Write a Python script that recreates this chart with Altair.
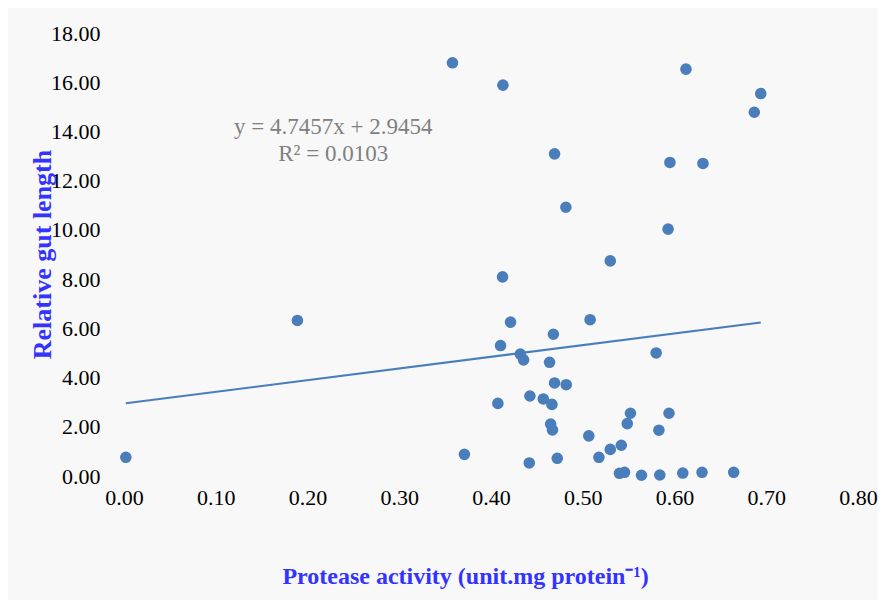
import altair as alt
import pandas as pd

# Data
protease = [0.002, 0.189, 0.358, 0.371, 0.4075, 0.4104, 0.413, 0.4126, 0.4213, 0.432,
            0.4355, 0.4417, 0.4424, 0.457, 0.4638, 0.465, 0.4664, 0.467, 0.468, 0.4693,
            0.4693, 0.4722, 0.4816, 0.482, 0.5066, 0.508, 0.5176, 0.530, 0.530, 0.540,
            0.542, 0.5456, 0.5485, 0.552, 0.564, 0.580, 0.583, 0.584, 0.593, 0.594,
            0.595, 0.609, 0.6125, 0.630, 0.631, 0.6645, 0.687, 0.694]
gut_length = [0.76, 6.32, 16.79, 0.88, 2.95, 5.30, 15.88, 8.09, 6.25, 4.95,
              4.72, 0.53, 3.25, 3.13, 4.62, 2.11, 2.91, 1.87, 5.76, 13.09,
              3.78, 0.72, 10.92, 3.71, 1.63, 6.35, 0.76, 8.74, 1.08, 0.11,
              1.25, 0.15, 2.13, 2.55, 0.03, 5.00, 1.86, 0.04, 10.03, 2.55,
              12.74, 0.12, 16.53, 0.15, 12.70, 0.15, 14.78, 15.54]

slope = 4.7457
intercept = 2.9454
r_squared = 0.0103
trend_x = [0.002, 0.694]

x_ticks = [0.0, 0.1, 0.2, 0.3, 0.4, 0.5, 0.6, 0.7, 0.8]
y_ticks = [0, 2, 4, 6, 8, 10, 12, 14, 16, 18]

annot_x = [0.228]
annot_y = [14.2]
annot_text = [f"y = {slope}x + {intercept}\nR\u00b2 = {r_squared}"]

pts = pd.DataFrame({"x": protease, "y": gut_length})
trend = pd.DataFrame({"x": trend_x})
annot = pd.DataFrame({"x": annot_x, "y": annot_y, "t": annot_text})

BLUE = "#4A7EBB"
TITLE_BLUE = "#3333FF"
SERIF = "Liberation Serif"

xscale = alt.Scale(domain=[0, 0.8], nice=False, zero=False)
yscale = alt.Scale(domain=[0, 18], nice=False)

xaxis = alt.Axis(values=x_ticks, format=".2f", title="Protease activity (unit.mg protein\u207b\u00b9)",
                 grid=False, domain=False, ticks=False, labelPadding=11, labelFlush=False,
                 titleX=341, titleY=100, titleBaseline="middle", titleAnchor="start", titleAlign="center")
yaxis = alt.Axis(values=y_ticks, format=".2f", title="Relative gut length",
                 grid=False, domain=False, ticks=False, labelPadding=24, labelFlush=False,
                 titleX=-82, titleY=221, titleAngle=-90, titleBaseline="middle", titleAlign="center",
                 titleAnchor="start", titleFontSize=26)

points = alt.Chart(pts).mark_circle(size=135, opacity=1, color=BLUE).encode(
    x=alt.X("x:Q", scale=xscale, axis=xaxis),
    y=alt.Y("y:Q", scale=yscale, axis=yaxis),
)

line = alt.Chart(trend).transform_calculate(
    y=f"{slope} * datum.x + {intercept}"
).mark_line(color=BLUE, strokeWidth=2).encode(
    x=alt.X("x:Q", scale=xscale),
    y=alt.Y("y:Q", scale=yscale),
)

text = alt.Chart(annot).mark_text(
    font=SERIF, fontSize=23, color="#808080", align="center", baseline="middle",
    lineBreak="\n", lineHeight=27
).encode(
    x=alt.X("x:Q", scale=xscale),
    y=alt.Y("y:Q", scale=yscale),
    text="t:N",
)

chart = alt.layer(line, points, text).properties(
    width=734, height=443,
    autosize=alt.AutoSizeParams(type="none"),
    padding={"left": 116, "top": 25, "right": 20, "bottom": 124},
    background="#f8f8f8",
).configure_view(stroke=None).configure_axis(
    labelFont=SERIF, labelFontSize=22, labelColor="#000000",
    titleFont=SERIF, titleFontSize=24, titleFontWeight="bold", titleColor=TITLE_BLUE,
)

chart.save("out.html", embed_options={"renderer": "svg", "actions": False})
